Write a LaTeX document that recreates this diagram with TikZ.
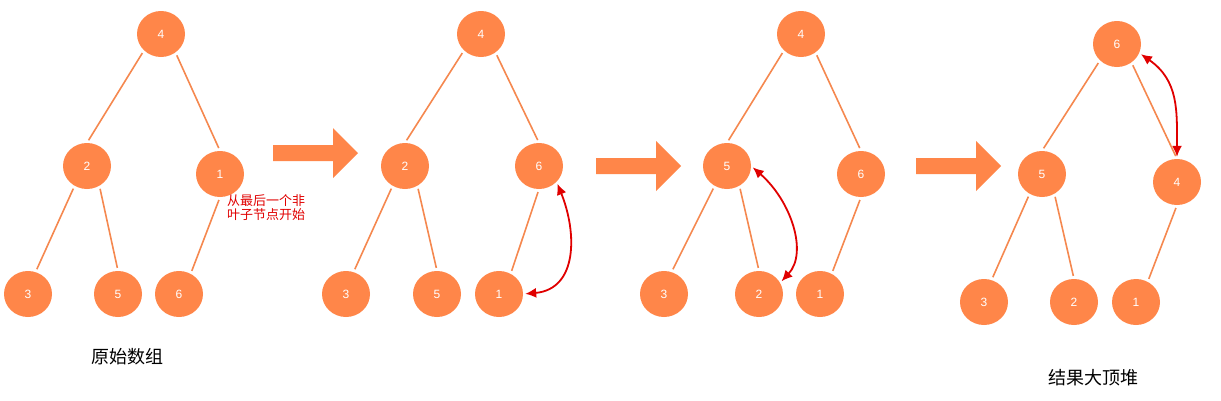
\documentclass[tikz,border=0pt]{standalone}
\usepackage{fontspec}
\setmainfont{Liberation Sans}
\newfontfamily\cjk{Noto Sans CJK SC}
\usetikzlibrary{shapes.geometric,arrows.meta}
\definecolor{nodeor}{HTML}{FF8649}
\definecolor{edgeor}{HTML}{F5884F}
\definecolor{swapred}{HTML}{E00000}
\begin{document}
\begin{tikzpicture}[x=1pt,y=-1pt,
 hn/.style={ellipse, fill=nodeor, minimum width=48pt, minimum height=46pt, inner sep=0pt, text=white, font=\fontsize{12}{12}\selectfont},
 ed/.style={draw=edgeor, line width=1.6pt, shorten <=3pt, shorten >=3pt},
 sw/.style={draw=swapred, line width=1.8pt, shorten <=2pt, shorten >=2pt, {Latex[length=11pt,width=10pt]}-{Latex[length=11pt,width=10pt]}},
 bigarr/.pic={\fill[nodeor] (0,-8) -- (60,-8) -- (60,-25) -- (85,0) -- (60,25) -- (60,8) -- (0,8) -- cycle;},
 caplab/.style={font=\cjk\fontsize{18}{20}\selectfont, text=black}
]
\useasboundingbox (0,0) rectangle (1221,400);
% Tree 1
\node[hn] (a4) at (161,34) {4};
\node[hn] (a2) at (87,166) {2};
\node[hn] (a1) at (220,174) {1};
\node[hn] (a3) at (28,294) {3};
\node[hn] (a5) at (118,294) {5};
\node[hn] (a6) at (179,294) {6};
\draw[ed] (a4.224) -- (a2.north);
\draw[ed] (a4.-52) -- (a1.north);
\draw[ed] (a2.238) -- (a3.71);
\draw[ed] (a2.302) -- (a5.north);
\draw[ed] (a1.south) -- (a6.60);
\node[text=swapred, font=\cjk\fontsize{13}{14}\selectfont, align=left, anchor=north west, inner sep=0pt] (note) at (227,194) {从最后一个非\\叶子节点开始};
\node[caplab] (lab1) at (127,357) {原始数组};
% Arrow 1
\pic at (273,153) {bigarr};
% Tree 2
\node[hn] (b4) at (481,34) {4};
\node[hn] (b2) at (405,166) {2};
\node[hn] (b6) at (539,166) {6};
\node[hn] (b3) at (346,294) {3};
\node[hn] (b5) at (437,294) {5};
\node[hn] (b1) at (499,294) {1};
\draw[ed] (b4.224) -- (b2.north);
\draw[ed] (b4.-52) -- (b6.north);
\draw[ed] (b2.238) -- (b3.71);
\draw[ed] (b2.302) -- (b5.north);
\draw[ed] (b6.south) -- (b1.60);
\draw[sw] (b6.-42) to[out=-68,in=5,looseness=1.2] (b1.east);
% Arrow 2
\pic at (596,166) {bigarr};
% Tree 3
\node[hn] (c4) at (801,34) {4};
\node[hn] (c5) at (727,166) {5};
\node[hn] (c6) at (861,174) {6};
\node[hn] (c3) at (664,294) {3};
\node[hn] (c2) at (759,294) {2};
\node[hn] (c1) at (820,294) {1};
\draw[ed] (c4.224) -- (c5.north);
\draw[ed] (c4.-52) -- (c6.north);
\draw[ed] (c5.238) -- (c3.71);
\draw[ed] (c5.302) -- (c2.north);
\draw[ed] (c6.south) -- (c1.60);
\draw[sw] (c5.east) .. controls +(40,35) and +(28,-30) .. (c2.28);
% Arrow 3
\pic at (916,166) {bigarr};
% Tree 4
\node[hn] (d6) at (1117,44) {6};
\node[hn] (d5) at (1042,174) {5};
\node[hn] (d4) at (1177,182) {4};
\node[hn] (d3) at (984,302) {3};
\node[hn] (d2) at (1074,302) {2};
\node[hn] (d1) at (1136,302) {1};
\draw[ed] (d6.224) -- (d5.north);
\draw[ed] (d6.-52) -- (d4.north);
\draw[ed] (d5.238) -- (d3.71);
\draw[ed] (d5.302) -- (d2.north);
\draw[ed] (d4.south) -- (d1.60);
\draw[sw] (d6.-22) to[out=-35,in=90,looseness=1.1] (d4.north);
\node[caplab] (lab2) at (1093,378) {结果大顶堆};
\end{tikzpicture}
\end{document}
